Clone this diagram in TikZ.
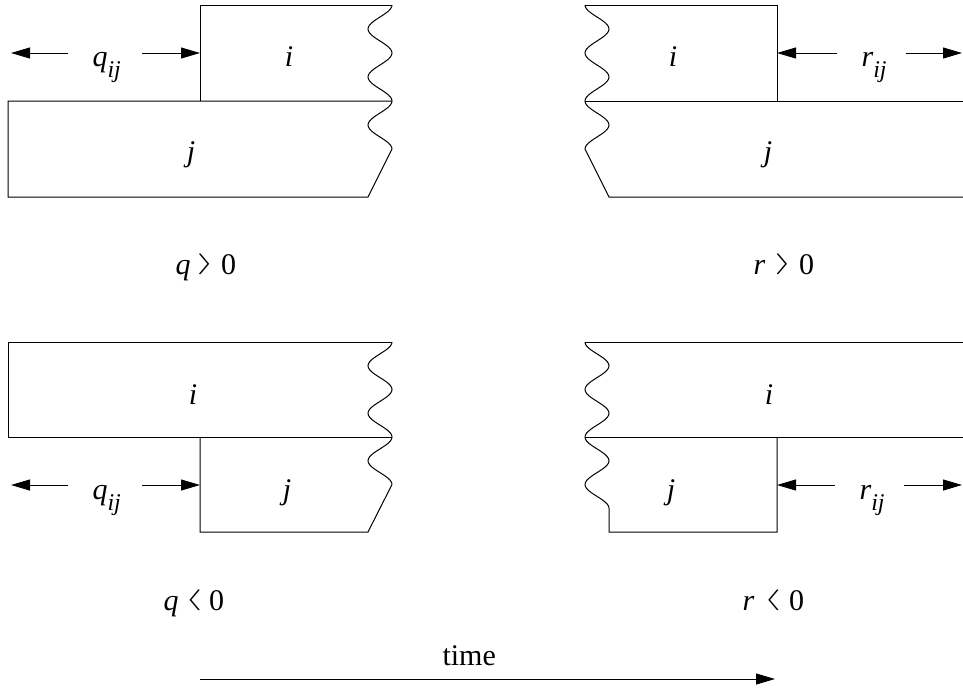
\documentclass[tikz,border=0pt]{standalone}
\usepackage{fontspec}
\setmainfont{Liberation Serif}
\usepackage{tikz}
\usetikzlibrary{arrows.meta}
\newcommand\labfont{\fontsize{30}{34}\selectfont}
\newcommand\subfont{\fontsize{24}{26}\selectfont}
\newcommand\sidx[1]{\textit{#1}\raisebox{-11pt}{\subfont\textit{ij}}}
\newcommand\gtsign{\raisebox{5pt}{\fontsize{20}{20}\selectfont\scalebox{2.2}[1]{$\rangle$}}}
\newcommand\ltsign{\raisebox{5pt}{\fontsize{20}{20}\selectfont\scalebox{2.2}[1]{$\langle$}}}

\begin{document}
\begin{tikzpicture}[x=1pt,y=-1pt,line width=1pt,
  labelnode/.style={font=\labfont,inner sep=0pt,anchor=base},
  dimlabel/.style={font=\labfont,inner sep=0pt,anchor=base west},
  dimarrow/.style={-{Triangle[length=19pt,width=11pt]}}]
  \useasboundingbox (0,0) rectangle (963,689);
  % q > 0
  \draw (392,5) -- (200,5) -- (200,101);
  \draw (392,101) -- (8,101) -- (8,197) -- (368,197) -- (392,149);
  \draw plot[domain=5:149,samples=73,smooth] ({380+12*cos(7.5*(\x-5))},\x);
  \node[labelnode] (iA) at (289,66) {\textit{i}};
  \node[labelnode] (jA) at (191,161) {\textit{j}};
  \node[dimlabel] (qA) at (92,66) {\sidx{q}};
  \coordinate (qAfar) at (11,53);
  \coordinate (qAedge) at (200,53);
  \draw[dimarrow,shorten <=24pt] ([yshift=13pt]qA.base west) -- (qAfar);
  \draw[dimarrow,shorten <=21pt] ([yshift=13pt]qA.base east) -- (qAedge);
  \node[dimlabel] (cA) at (175,274) {\textit{q}\hspace{6pt}\gtsign\hspace{7pt}0};
  % r > 0
  \draw (585,5) -- (777,5) -- (777,101);
  \draw (585,101) -- (963,101);
  \draw plot[domain=5:149,samples=73,smooth] ({597-12*cos(7.5*(\x-5))},\x)
    -- (609,197) -- (963,197);
  \node[labelnode] (iB) at (673,66) {\textit{i}};
  \node[labelnode] (jB) at (768,161) {\textit{j}};
  \node[dimlabel] (rB) at (861,66) {\sidx{r}};
  \coordinate (rBedge) at (777,53);
  \coordinate (rBfar) at (962,53);
  \draw[dimarrow,shorten <=24pt] ([yshift=13pt]rB.base west) -- (rBedge);
  \draw[dimarrow,shorten <=19pt] ([yshift=13pt]rB.base east) -- (rBfar);
  \node[dimlabel] (cB) at (753,274) {\textit{r}\hspace{9pt}\gtsign\hspace{7pt}0};
  % q < 0
  \draw (392,342) -- (8,342) -- (8,437) -- (392,437);
  \draw (200,437) -- (200,532) -- (368,532) -- (392,484.5);
  \draw plot[domain=342:484.5,samples=73,smooth] ({380+12*cos(7.579*(\x-342))},\x);
  \node[labelnode] (iC) at (193,404) {\textit{i}};
  \node[labelnode] (jC) at (287,499) {\textit{j}};
  \node[dimlabel] (qC) at (92,499) {\sidx{q}};
  \coordinate (qCfar) at (11,485);
  \coordinate (qCedge) at (200,485);
  \draw[dimarrow,shorten <=24pt] ([yshift=14pt]qC.base west) -- (qCfar);
  \draw[dimarrow,shorten <=21pt] ([yshift=14pt]qC.base east) -- (qCedge);
  \node[dimlabel] (cC) at (163,610) {\textit{q}\hspace{6pt}\ltsign\hspace{7pt}0};
  % r < 0
  \draw (585,342) -- (963,342);
  \draw (585,437) -- (963,437);
  \draw plot[domain=342:508.25,samples=85,smooth] ({597-12*cos(7.579*(\x-342))},\x)
    -- (609,532) -- (777,532) -- (777,437);
  \node[labelnode] (iD) at (769,404) {\textit{i}};
  \node[labelnode] (jD) at (671,499) {\textit{j}};
  \node[dimlabel] (rD) at (859,499) {\sidx{r}};
  \coordinate (rDedge) at (777,485);
  \coordinate (rDfar) at (962,485);
  \draw[dimarrow,shorten <=24pt] ([yshift=14pt]rD.base west) -- (rDedge);
  \draw[dimarrow,shorten <=19pt] ([yshift=14pt]rD.base east) -- (rDfar);
  \node[dimlabel] (cD) at (742,610) {\textit{r}\hspace{9pt}\ltsign\hspace{8pt}0};
  % time axis
  \node[dimlabel] (time) at (442,665) {time};
  \coordinate (tstart) at (200,679);
  \coordinate (tend) at (775,679);
  \draw[dimarrow] (tstart) -- (tend);
\end{tikzpicture}
\end{document}
